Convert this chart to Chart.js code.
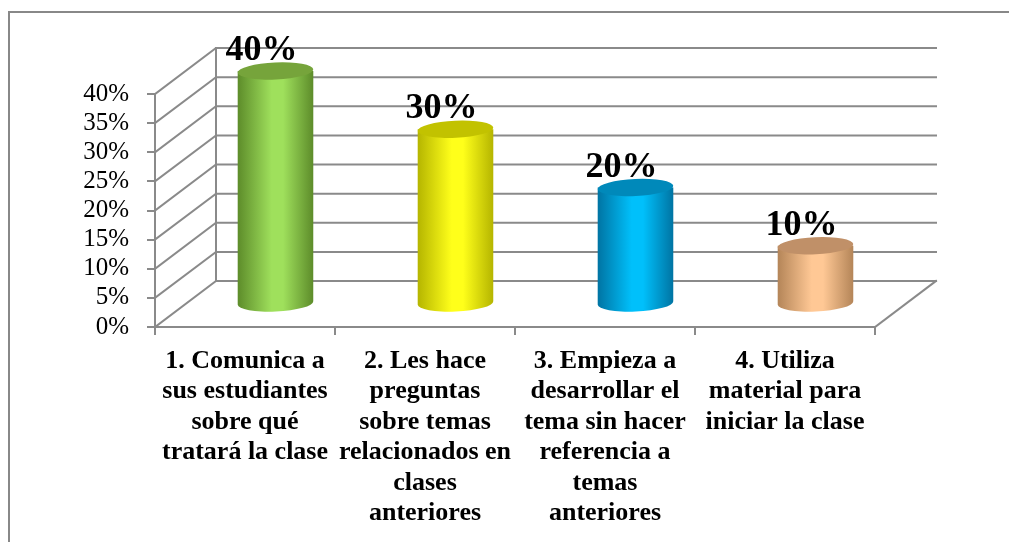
<!DOCTYPE html>
<html>
<head>
<meta charset="utf-8">
<script src="https://cdn.jsdelivr.net/npm/chart.js@4"></script>
<style>
  html, body { margin: 0; padding: 0; background: #fff; }
  canvas { display: block; }
</style>
</head>
<body>
<canvas id="chart" width="1009" height="542"></canvas>
<script>
const categories = [
  ["1. Comunica a", "sus estudiantes", "sobre qué", "tratará la clase"],
  ["2. Les hace", "preguntas", "sobre temas", "relacionados en", "clases", "anteriores"],
  ["3. Empieza a", "desarrollar el", "tema sin hacer", "referencia a", "temas", "anteriores"],
  ["4. Utiliza", "material para", "iniciar la clase"]
];
const values = [40, 30, 20, 10];
const yMax = 40;
const yStep = 5;

// colores de cada cilindro: borde, centro, tapa
const barColors = [
  { edge: "#5d8c2a", mid: "#9fe05c", top: "#76a43b" },
  { edge: "#b5b500", mid: "#ffff1a", top: "#c2c200" },
  { edge: "#0074a3", mid: "#00c0fb", top: "#0089ba" },
  { edge: "#b48558", mid: "#ffc895", top: "#c09068" }
];

const gridColor = "#8a8a8a";
const depthX = 61, depthY = -46; // profundidad del efecto 3D

const chart3d = {
  id: "chart3d",
  beforeDraw(chart) {
    const ctx = chart.ctx;
    ctx.save();
    ctx.fillStyle = "#fff";
    ctx.fillRect(0, 0, chart.width, chart.height);
    ctx.strokeStyle = "#888";
    ctx.lineWidth = 2;
    ctx.strokeRect(9, 12, chart.width + 20, chart.height + 20);
    ctx.restore();
  },
  beforeDatasetsDraw(chart) {
    const ctx = chart.ctx;
    const { left, right } = chart.chartArea;
    const y = chart.scales.y;
    ctx.save();
    ctx.strokeStyle = gridColor;
    ctx.lineWidth = 2;
    ctx.lineCap = "square";
    // pared del fondo y pared izquierda
    for (let v = 0; v <= yMax; v += yStep) {
      const py = y.getPixelForValue(v);
      ctx.beginPath();
      ctx.moveTo(left, py);
      ctx.lineTo(left + depthX, py + depthY);
      ctx.lineTo(right + depthX, py + depthY);
      ctx.stroke();
    }
    ctx.beginPath();
    ctx.moveTo(left + depthX, y.getPixelForValue(0) + depthY);
    ctx.lineTo(left + depthX, y.getPixelForValue(yMax) + depthY);
    ctx.stroke();
    // piso, lado derecho
    const p0 = y.getPixelForValue(0);
    ctx.beginPath();
    ctx.moveTo(right, p0);
    ctx.lineTo(right + depthX, p0 + depthY);
    ctx.stroke();
    ctx.restore();
  },
  afterDatasetsDraw(chart) {
    const ctx = chart.ctx;
    const meta = chart.getDatasetMeta(0);
    const rot = -0.045;
    ctx.save();
    meta.data.forEach((bar, i) => {
      const c = barColors[i];
      const cx = bar.x + depthX / 2;
      const ty = bar.y + depthY / 2;
      const by = bar.base + depthY / 2;
      const rx = bar.width / 2;
      const ry = 8.5;
      const g = ctx.createLinearGradient(cx - rx, 0, cx + rx, 0);
      g.addColorStop(0, c.edge);
      g.addColorStop(0.45, c.mid);
      g.addColorStop(0.6, c.mid);
      g.addColorStop(1, c.edge);
      ctx.fillStyle = g;
      ctx.beginPath();
      ctx.moveTo(cx - rx, ty);
      ctx.lineTo(cx - rx, by);
      ctx.ellipse(cx, by, rx, ry, rot, Math.PI, 0, true);
      ctx.lineTo(cx + rx, ty);
      ctx.closePath();
      ctx.fill();
      ctx.fillStyle = c.top;
      ctx.beginPath();
      ctx.ellipse(cx, ty, rx, ry, rot, 0, Math.PI * 2);
      ctx.fill();

      ctx.fillStyle = "#000";
      ctx.font = "bold 36px 'Liberation Serif'";
      ctx.textAlign = "center";
      ctx.textBaseline = "alphabetic";
      ctx.fillText(values[i] + "%", cx - 14, ty - 11);
    });
    ctx.restore();
  }
};

new Chart(document.getElementById("chart"), {
  type: "bar",
  plugins: [chart3d],
  data: {
    labels: categories,
    datasets: [{
      data: values,
      backgroundColor: "rgba(0,0,0,0)",
      borderWidth: 0,
      categoryPercentage: 1,
      barPercentage: 0.42
    }]
  },
  options: {
    responsive: false,
    animation: false,
    layout: { padding: { left: 8, top: 94, right: 134, bottom: 0 } },
    plugins: {
      legend: { display: false },
      tooltip: { enabled: false }
    },
    scales: {
      x: {
        grid: { display: true, drawOnChartArea: false, tickLength: 8, color: gridColor, lineWidth: 2, offset: true },
        border: { color: gridColor, width: 2 },
        ticks: {
          color: "#000",
          font: { family: "'Liberation Serif'", size: 26, weight: "bold", lineHeight: 1.17 },
          padding: 11,
          maxRotation: 0,
          autoSkip: false
        },
        afterFit(scale) { scale.height = 215; }
      },
      y: {
        min: 0,
        max: yMax,
        grid: { display: true, drawOnChartArea: false, tickLength: 8, color: gridColor, lineWidth: 2 },
        border: { color: gridColor, width: 2 },
        ticks: {
          stepSize: yStep,
          autoSkip: false,
          color: "#000",
          font: { family: "'Liberation Serif'", size: 25 },
          padding: 18,
          callback: v => v + "%"
        },
        afterFit(scale) { scale.width = 147; }
      }
    }
  }
});
</script>
</body>
</html>
